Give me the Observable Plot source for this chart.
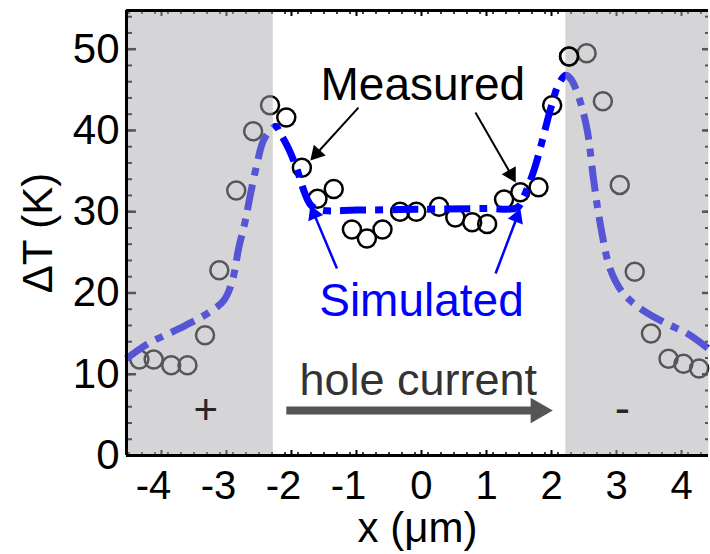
<!DOCTYPE html>
<html><head><meta charset="utf-8">
<script src="https://cdn.jsdelivr.net/npm/d3@7"></script>
<script src="https://cdn.jsdelivr.net/npm/@observablehq/plot@0.6"></script>
<style>body{margin:0;background:#fff}</style>
</head><body><div id="chart"></div>
<script>
// ---- data ----
const measuredX = [-4.34,-4.12,-3.85,-3.60,-3.33,-3.11,-2.85,-2.59,-2.33,-2.08,-1.84,-1.60,-1.35,-1.07,-0.84,-0.60,-0.33,-0.08,0.27,0.52,0.78,1.01,1.27,1.52,1.80,2.01,2.27,2.54,2.79,3.05,3.28,3.53,3.80,4.03,4.27];
const measuredT = [11.8,11.8,11.1,11.1,14.8,22.8,32.6,39.9,43.1,41.6,35.4,31.6,32.8,27.8,26.7,27.8,30.0,30.0,30.6,29.3,28.7,28.5,31.5,32.4,33.0,43.1,49.1,49.5,43.6,33.3,22.6,15.0,11.9,11.3,10.7];
const simX = [-4.54,-4.22,-3.73,-3.27,-3.04,-2.91,-2.81,-2.71,-2.63,-2.53,-2.43,-2.30,-2.24,-2.17,-2.04,-1.91,-1.81,-1.70,-1.55,-1.0,0,1.0,1.47,1.57,1.73,1.86,1.98,2.11,2.22,2.30,2.42,2.55,2.65,2.75,2.91,3.11,3.42,3.78,4.09,4.42];
const simT = [11.9,13.7,15.6,17.6,19.1,21.5,25.6,28.9,32.2,35.9,38.8,40.2,40.5,39.6,37.7,35.1,32.6,30.8,30.2,30.2,30.3,30.4,30.5,31.8,35.1,38.8,42.5,45.7,46.8,46.3,44.1,40.0,33.8,28.5,22.8,19.9,17.8,16.2,15.0,13.1];
const xTickValues = [-4,-3,-2,-1,0,1,2,3,4];
const yTickValues = [0,10,20,30,40,50];
const shadedFrom = [-4.54, 2.22];
const shadedTo = [-2.28, 4.42];
// annotations (text, anchor position in data units)
const labelText = ["Measured","Simulated","hole current","+","-"];
const labelX = [0.02, 0.0, -0.05, -3.32, 3.09];
const labelT = [45.5, 19.0, 9.16, 5.48, 5.7];
const arrowFromX = [-0.97, 0.83, -1.30, 1.14, -2.08];
const arrowFromT = [42.8, 42.2, 23.0, 22.4, 5.54];
const arrowToX = [-1.71, 1.45, -1.71, 1.52, 2.02];
const arrowToT = [36.3, 33.6, 30.8, 30.4, 5.54];

// ---- layout ----
const W = 710, H = 554, mL = 126, mR = 2, mT = 10, mB = 99;
const FW = W - mL - mR, FH = H - mT - mB;
const xDomain = [-4.538, 4.415], yDomain = [0, 54.76];
const kx = FW / (xDomain[1] - xDomain[0]), ky = FH / (yDomain[1] - yDomain[0]);

const measured = measuredX.map((x, i) => ({x, T: measuredT[i]}));
const sim = simX.map((x, i) => ({x, T: simT[i]}));
const shaded = shadedFrom.map((a, i) => ({x1: a, x2: shadedTo[i]}));
const xMinor = d3.range(-45, 45, 2).map(d => d / 10);
const yMinor = d3.range(0, 55, 2);
const above = measured.filter(d => d.x > -2.2 && d.x < 2.3 && (d.x < shadedTo[0] || d.x > shadedFrom[1]));

const arrowStyle = [
  {color: "black", w: 2, r: 6},
  {color: "black", w: 2, r: 6},
  {color: "#0000ff", w: 2.5, r: 6},
  {color: "#0000ff", w: 2.5, r: 6},
  {color: "#555555", w: 8, r: 9.5}
];
const arrows = arrowFromX.map((x1, i) => {
  const t1 = arrowFromT[i], x2 = arrowToX[i], t2 = arrowToT[i];
  const s = arrowStyle[i];
  const dx = (x2 - x1) * kx, dy = -(t2 - t1) * ky;
  const len = Math.hypot(dx, dy), ux = dx / len, uy = dy / len;
  const a = Math.sqrt(Math.PI * s.r * s.r / (3 * Math.sqrt(3)));
  return {
    x1, t1,
    bx: x2 - ux * 2.6 * a / kx, bt: t2 + uy * 2.6 * a / ky,
    cx: x2 - ux * 2 * a / kx, ct: t2 + uy * 2 * a / ky,
    rot: Math.atan2(dx, -dy) * 180 / Math.PI,
    ...s
  };
});

const font = "'Liberation Sans', Arial, Helvetica, sans-serif";
const marks = [
  // tick marks (under the shading)
  Plot.tickY(yMinor, {y: d => d, insetRight: FW - 6, strokeWidth: 2}),
  Plot.tickY(yTickValues, {y: d => d, insetRight: FW - 10, strokeWidth: 2.5}),
  Plot.tickY(yMinor, {y: d => d, insetLeft: FW - 3, strokeWidth: 2}),
  Plot.tickY(yTickValues, {y: d => d, insetLeft: FW - 6, strokeWidth: 2.5}),
  Plot.tickX(xMinor, {x: d => d, insetTop: FH - 3, strokeWidth: 1.5}),
  Plot.tickX(xTickValues, {x: d => d, insetTop: FH - 5, strokeWidth: 2}),
  Plot.tickX(xMinor, {x: d => d, insetBottom: FH - 4, strokeWidth: 1.5}),
  Plot.tickX(xTickValues, {x: d => d, insetBottom: FH - 6, strokeWidth: 2}),
  // measured circles
  Plot.dot(measured, {x: "x", y: "T", r: 9, stroke: "black", strokeWidth: 2.5, fill: "none"}),
  // simulated
  Plot.line(sim, {x: "x", y: "T", stroke: "#0000ff", strokeWidth: 7, strokeDasharray: "26,9,8,9", strokeLinecap: "butt", curve: "catmull-rom"}),
  // shaded contacts
  Plot.rect(shaded, {x1: "x1", x2: "x2", y1: yDomain[0], y2: yDomain[1], fill: "#aca9ae", fillOpacity: 0.5}),
  Plot.dot(above, {x: "x", y: "T", r: 9, stroke: "black", strokeWidth: 2.5, fill: "none"}),
  // frame lines
  Plot.ruleX([xDomain[0]], {stroke: "black", strokeWidth: 3}),
  Plot.ruleY([yDomain[0]], {stroke: "black", strokeWidth: 3}),
  Plot.ruleY([yDomain[1]], {stroke: "black", strokeWidth: 3}),
  // axes
  Plot.axisY({ticks: yTickValues, tickSize: 0, tickPadding: 7, fontSize: 42, label: null, tickFormat: d => String(d)}),
  Plot.axisX({ticks: xTickValues.filter(d => d < 0), tickSize: 0, tickPadding: 15, fontSize: 40, dx: -8, label: null, tickFormat: d => String(d)}),
  Plot.axisX({ticks: xTickValues.filter(d => d >= 0), tickSize: 0, tickPadding: 15, fontSize: 40, label: null, tickFormat: d => String(d)}),
  Plot.text(["x (\u03bcm)"], {frameAnchor: "bottom", lineAnchor: "bottom", textAnchor: "middle", dy: 86, fontSize: 42}),
  Plot.text(["\u0394T (K)"], {frameAnchor: "left", textAnchor: "middle", lineAnchor: "middle", rotate: -90, dx: -88, fontSize: 42}),
  // arrows
  ...arrows.map(a => Plot.link([a], {x1: "x1", y1: "t1", x2: "bx", y2: "bt", stroke: a.color, strokeWidth: a.w, strokeLinecap: "butt"})),
  ...arrows.map(a => Plot.dot([a], {x: "cx", y: "ct", symbol: "triangle", r: a.r, rotate: "rot", fill: a.color, stroke: "none"})),
  // labels
  Plot.text([0], {x: () => labelX[0], y: () => labelT[0], text: () => labelText[0], fontSize: 46, fill: "black"}),
  Plot.text([1], {x: () => labelX[1], y: () => labelT[1], text: () => labelText[1], fontSize: 46, fill: "#0000ff"}),
  Plot.text([2], {x: () => labelX[2], y: () => labelT[2], text: () => labelText[2], fontSize: 45, fill: "#333333"}),
  Plot.text([3], {x: () => labelX[3], y: () => labelT[3], text: () => labelText[3], fontSize: 42, fill: "#262626"}),
  Plot.text([4], {x: () => labelX[4], y: () => labelT[4], text: () => labelText[4], fontSize: 46, fill: "#262626"})
];

const chart = Plot.plot({
  width: W, height: H,
  marginLeft: mL, marginRight: mR, marginTop: mT, marginBottom: mB,
  x: {domain: xDomain},
  y: {domain: yDomain},
  style: {fontFamily: font, background: "white", overflow: "visible"},
  marks
});
document.getElementById("chart").appendChild(chart);
</script>
</body></html>
